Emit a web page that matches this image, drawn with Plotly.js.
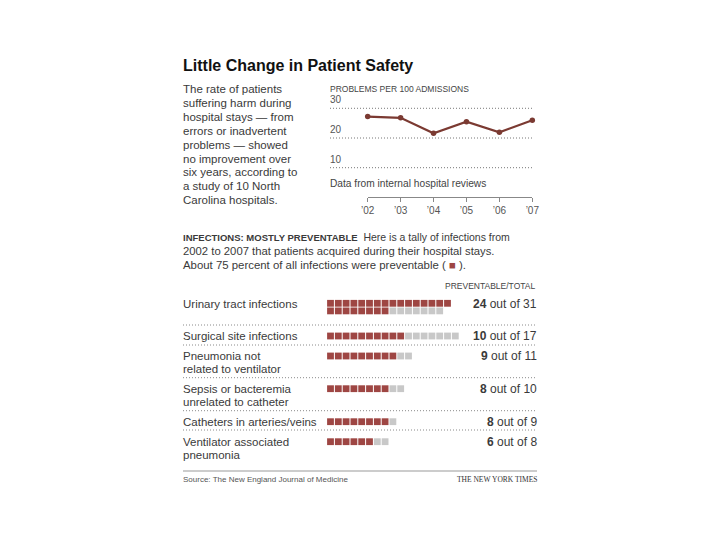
<!DOCTYPE html>
<html><head><meta charset="utf-8">
<script src="https://cdn.plot.ly/plotly-3.0.1.min.js"></script>
<style>html,body{margin:0;padding:0;background:#fff}</style>
</head><body>
<div id="chart" style="width:720px;height:540px"></div>
<script>
// ---- data ----
const years = [2002, 2003, 2004, 2005, 2006, 2007];
const yearLabels = ["\u201902", "\u201903", "\u201904", "\u201905", "\u201906", "\u201907"];
const problemsPer100 = [27.2, 26.8, 21.6, 25.5, 21.9, 26.0];
const rateTicks = [10, 20, 30];
const infectionTypes = [
  "Urinary tract infections",
  "Surgical site infections",
  "Pneumonia not<br>related to ventilator",
  "Sepsis or bacteremia<br>unrelated to catheter",
  "Catheters in arteries/veins",
  "Ventilator associated<br>pneumonia"
];
const preventable = [24, 10, 9, 8, 8, 6];
const totals = [31, 17, 11, 10, 9, 8];
const introLines = [
  "The rate of patients",
  "suffering harm during",
  "hospital stays \u2014 from",
  "errors or inadvertent",
  "problems \u2014 showed",
  "no improvement over",
  "six years, according to",
  "a study of 10 North",
  "Carolina hospitals."
];

// ---- layout constants ----
const FONT = "Liberation Sans, Arial, sans-serif";
const RED = "#9e4643";
const GRAY = "#c8c8c8";
const LINE = "#7b3a32";
const TXT = "#3a3a3a";
const rowY = [304, 336, 356, 388.7, 421.7, 441.7];
const sepY = [325, 345, 377.7, 410.7, 430];
const sqX0 = 330.5, sqStep = 7.8, sqRowStep = 7.6, sqSize = 6.8;

const annotations = [];
const shapes = [];
function txt(x, y, text, size, opts) {
  annotations.push(Object.assign({
    xref: "x2", yref: "y2", x: x, y: y, text: text, showarrow: false,
    xanchor: "left", yanchor: "middle",
    font: {family: FONT, size: size, color: TXT}
  }, opts || {}));
}

// title + intro
txt(181, 65, "<b>Little Change in Patient Safety</b>", 16, {font: {family: FONT, size: 16, color: "#111"}});
introLines.forEach((l, i) => txt(181, 89.3 + i * 13.85, l, 11.5));

// line chart labels
txt(328, 89, "PROBLEMS PER 100 ADMISSIONS", 8.5, {font: {family: FONT, size: 8.5, color: "#444"}});
txt(328, 183, "Data from internal hospital reviews", 10.2, {font: {family: FONT, size: 10.2, color: "#444"}});
rateTicks.forEach(v => {
  shapes.push({type: "line", xref: "paper", yref: "y", x0: 330 / 720, x1: 534 / 720, y0: v, y1: v,
    line: {color: "#777", width: 1, dash: "1px,2px"}});
  annotations.push({xref: "paper", yref: "y", x: 328 / 720, y: v, text: String(v), showarrow: false,
    xanchor: "left", yanchor: "bottom", yshift: 1, font: {family: FONT, size: 10, color: "#555"}});
});

// infections intro
txt(181, 236.7, '<b><span style="font-size:9.5px">INFECTIONS: MOSTLY PREVENTABLE</span></b>  Here is a tally of infections from', 10.5);
txt(181, 251, "2002 to 2007 that patients acquired during their hospital stays.", 11.3);
txt(181, 265, 'About 75 percent of all infections were preventable ( <span style="color:' + RED + '">\u25A0</span> ).', 11.4);
txt(537, 286, "PREVENTABLE/TOTAL", 8.5, {xanchor: "right", font: {family: FONT, size: 8.5, color: "#444"}});

// rows
const sqx = [], sqy = [], sqc = [];
infectionTypes.forEach((name, r) => {
  name.split("<br>").forEach((l, j) => txt(181, rowY[r] + j * 13, l, 11.5));
  txt(539, rowY[r], "<b>" + preventable[r] + "</b> out of " + totals[r], 12, {xanchor: "right"});
  const perRow = totals[r] > 20 ? Math.ceil(totals[r] / 2) : totals[r];
  const rows = Math.ceil(totals[r] / perRow);
  for (let k = 0; k < totals[r]; k++) {
    const row = Math.floor(k / perRow), col = k % perRow;
    sqx.push(sqX0 + col * sqStep);
    sqy.push(rowY[r] - (rows > 1 ? 0.7 : 0) + row * sqRowStep);
    sqc.push(k < preventable[r] ? RED : GRAY);
  }
});
sepY.forEach(y => shapes.push({type: "line", xref: "x2", yref: "y2", x0: 183, x1: 537, y0: y, y1: y,
  line: {color: "#8a8a8a", width: 1, dash: "1px,2px"}}));
shapes.push({type: "line", xref: "x2", yref: "y2", x0: 183, x1: 537, y0: 471, y1: 471,
  line: {color: "#999", width: 1}});

// footer
txt(181, 479.5, "Source: The New England Journal of Medicine", 8, {font: {family: FONT, size: 8, color: "#555"}});
txt(539, 479.5, "THE NEW YORK TIMES", 7.5, {xanchor: "right", font: {family: "Liberation Serif, serif", size: 7.5, color: "#333"}});

const traces = [
  {type: "scatter", mode: "lines+markers", x: years, y: problemsPer100, xaxis: "x", yaxis: "y",
   line: {color: LINE, width: 2.2}, marker: {color: LINE, size: 5.5}, cliponaxis: false, hoverinfo: "skip"},
  {type: "scatter", mode: "markers", x: sqx, y: sqy, xaxis: "x2", yaxis: "y2",
   marker: {symbol: "square", size: sqSize, color: sqc, line: {width: 0}}, hoverinfo: "skip"}
];

const layout = {
  width: 720, height: 540, margin: {l: 0, r: 0, t: 0, b: 0},
  paper_bgcolor: "#fff", plot_bgcolor: "rgba(0,0,0,0)", showlegend: false,
  xaxis: {domain: [367.7 / 720, 532.3 / 720], range: [2002, 2007], anchor: "y",
    showline: true, linecolor: "#888", linewidth: 1, ticks: "outside", ticklen: 4, tickcolor: "#888",
    tickvals: years, ticktext: yearLabels, tickfont: {family: FONT, size: 10, color: "#555"},
    showgrid: false, zeroline: false, fixedrange: true},
  yaxis: {domain: [1 - 196.7 / 540, 1 - 100 / 540], range: [0.24, 32.79], anchor: "x",
    visible: false, showgrid: false, zeroline: false, fixedrange: true},
  xaxis2: {domain: [0, 1], range: [0, 720], anchor: "y2", visible: false, fixedrange: true},
  yaxis2: {domain: [0, 1], range: [540, 0], anchor: "x2", visible: false, fixedrange: true},
  annotations: annotations, shapes: shapes
};
Plotly.newPlot("chart", traces, layout, {displayModeBar: false, staticPlot: true});
</script>
</body></html>
